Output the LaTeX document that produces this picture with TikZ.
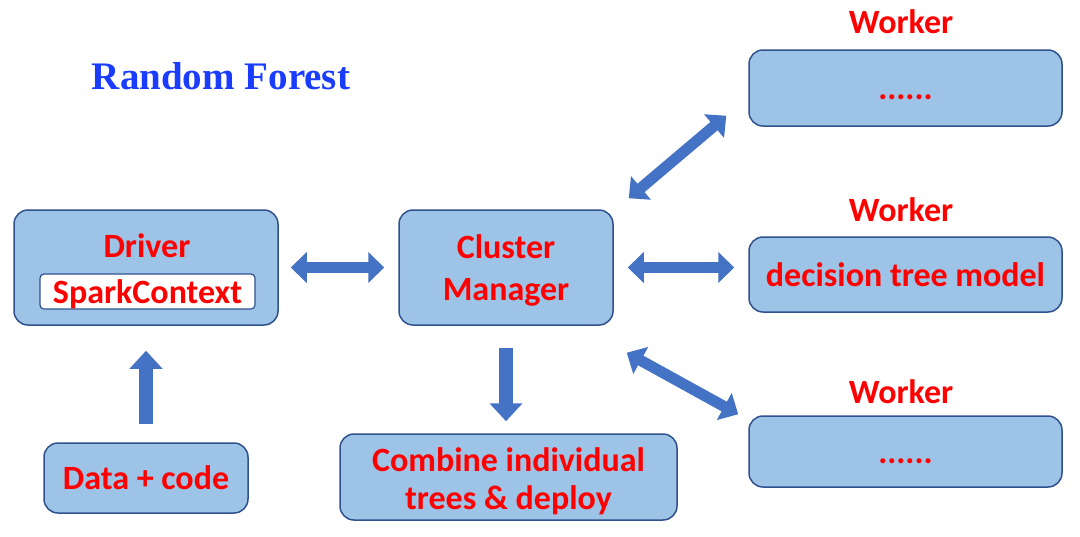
\documentclass[tikz,border=0pt]{standalone}
\usepackage{fontspec}
\setmainfont{Carlito}
\newfontfamily\titlefont{Liberation Serif}
\usetikzlibrary{arrows.meta}
\definecolor{boxfill}{HTML}{9DC3E6}
\definecolor{boxline}{HTML}{2F528F}
\definecolor{arrowblue}{HTML}{4472C4}
\definecolor{titleblue}{HTML}{1A3CFF}
\newcommand{\redfont}[0]{\fontsize{34}{42}\selectfont\bfseries}

\begin{document}
\begin{tikzpicture}[x=1pt, y=-1pt]
  \tikzset{
    lbl/.style={font=\redfont, text=red, inner sep=0pt, align=center},
    box/.style={lbl, draw=boxline, fill=boxfill, line width=1.5pt, rounded corners=14pt},
    oneline/.style={text height=26pt, text depth=3pt},
    fat/.style={draw=arrowblue, line width=11pt,
      {Triangle[width=30pt,length=16pt]}-{Triangle[width=30pt,length=16pt]}},
    fatone/.style={draw=arrowblue, line width=14pt, -{Triangle[width=32pt,length=18pt]}}
  }
  \useasboundingbox (0,0) rectangle (1080,536);
  \node[font=\titlefont\fontsize{39}{46}\selectfont\bfseries, text=titleblue, inner sep=0pt] (title) at (221,76) {Random Forest};
  % driver side
  \node[box, minimum width=264pt, minimum height=115pt] (driver) at (146,267.5) {};
  \node[lbl] (drivertext) at (147,246) {Driver};
  \node[lbl, oneline, draw=boxline, fill=white, line width=1.2pt, rounded corners=4pt,
        minimum width=215pt, minimum height=35pt] (context) at (147.5,291.5) {SparkContext};
  \node[box, oneline, minimum width=204pt, minimum height=70pt] (data) at (146,478) {Data + code};
  % cluster manager
  \node[box, minimum width=214pt, minimum height=115pt] (cluster) at (506,267.5) {};
  \node[lbl] (clustertext) at (506,270.5) {Cluster\\Manager};
  \node[box, minimum width=337pt, minimum height=86pt] (combine) at (508.5,477) {};
  \node[lbl, font=\fontsize{34}{38}\selectfont\bfseries] (combinetext) at (508.5,481) {Combine individual\\trees \& deploy};
  % workers
  \node[box, oneline, minimum width=313pt, minimum height=76pt] (wtop) at (905.5,88) {......};
  \node[box, oneline, minimum width=313pt, minimum height=75pt] (wmid) at (905.5,274.5) {decision tree model};
  \node[box, oneline, minimum width=313pt, minimum height=71pt] (wbot) at (905.5,451.5) {......};
  \node[lbl] (wtoplabel) at (901,22) {Worker};
  \node[lbl] (wmidlabel) at (901,210) {Worker};
  \node[lbl] (wbotlabel) at (901,392) {Worker};
  % arrows
  \draw[fat, shorten <=12pt, shorten >=14pt] (driver.east) -- (cluster.west);
  \draw[fat, shorten <=14pt, shorten >=14pt] (cluster.east) -- (cluster.east -| wmid.west);
  \draw[fat] ([shift={(15,-11)}]cluster.north east) -- ([shift={(-22,-11)}]wtop.south west);
  \draw[fat] ([shift={(13,27)}]cluster.south east) -- ([shift={(-10,-1)}]wbot.north west);
  \draw[fatone, shorten <=22pt, shorten >=12pt] (cluster.south) -- (cluster.south |- combine.north);
  \draw[fatone, shorten <=18pt, shorten >=25pt] (data.north) -- (data.north |- driver.south);
\end{tikzpicture}
\end{document}
